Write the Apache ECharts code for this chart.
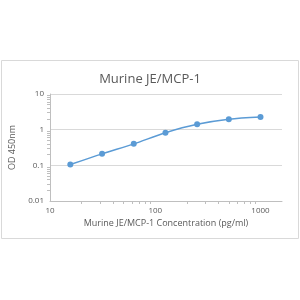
<!DOCTYPE html>
<html>
<head>
<meta charset="utf-8">
<script src="https://cdn.jsdelivr.net/npm/echarts@6/dist/echarts.min.js"></script>
<style>
html, body { margin: 0; padding: 0; background: #fff; }
#chart { width: 300px; height: 300px; }
</style>
</head>
<body>
<div id="chart"></div>
<script>
var concentrations = [15.6, 31.25, 62.5, 125, 250, 500, 1000];
var odValues = [0.105, 0.21, 0.40, 0.82, 1.41, 1.95, 2.25];
var xTickLabels = ['10', '100', '1000'];

var points = concentrations.map(function (c, i) { return [c, odValues[i]]; });

var myChart = echarts.init(document.getElementById('chart'));
var axisGray = '#bfbfbf';
var textGray = '#595959';

function decadeLabel(v) {
    var s = String(Math.round(v));
    return xTickLabels.indexOf(s) >= 0 ? s : '';
}

myChart.setOption({
    animation: false,
    graphic: [{
        type: 'rect',
        shape: { x: 1.5, y: 60.5, width: 297, height: 178 },
        style: { fill: 'none', stroke: '#d9d9d9', lineWidth: 1 },
        silent: true
    }],
    title: {
        text: 'Murine JE/MCP-1',
        left: 'center',
        top: 68,
        textStyle: { fontFamily: 'Open Sans', fontSize: 13, fontWeight: 'normal', color: textGray }
    },
    grid: { left: 50, right: 18, top: 94, bottom: 99 },
    xAxis: {
        type: 'log',
        logBase: 10,
        min: 10,
        max: 1600,
        name: 'Murine JE/MCP-1 Concentration (pg/ml)',
        nameLocation: 'middle',
        nameGap: 18,
        nameTextStyle: { fontFamily: 'Open Sans', fontSize: 9, color: textGray },
        axisLine: { lineStyle: { color: axisGray } },
        axisTick: { show: false },
        minorTick: { show: true, splitNumber: 9, length: 3, lineStyle: { color: axisGray } },
        axisLabel: { fontFamily: 'Open Sans', fontSize: 8, color: textGray, margin: 6, formatter: decadeLabel, showMaxLabel: false },
        splitLine: { show: false }
    },
    yAxis: {
        type: 'log',
        logBase: 10,
        min: 0.01,
        max: 10,
        name: 'OD 450nm',
        nameLocation: 'middle',
        nameGap: 24,
        nameTextStyle: { fontFamily: 'Open Sans', fontSize: 9, color: textGray },
        axisLine: { show: true, lineStyle: { color: axisGray } },
        axisTick: { show: false },
        minorTick: { show: true, splitNumber: 9, length: 3, lineStyle: { color: axisGray } },
        axisLabel: { fontFamily: 'Open Sans', fontSize: 8, color: textGray, margin: 6 },
        splitLine: { show: true, lineStyle: { color: '#d9d9d9' } }
    },
    series: [{
        type: 'line',
        data: points,
        smooth: 0.3,
        symbol: 'circle',
        symbolSize: 6,
        itemStyle: { color: '#5b9bd5' },
        lineStyle: { color: '#5b9bd5', width: 1.5 }
    }]
});

window.onresize = function () {
    myChart.resize();
};
</script>
</body>
</html>
